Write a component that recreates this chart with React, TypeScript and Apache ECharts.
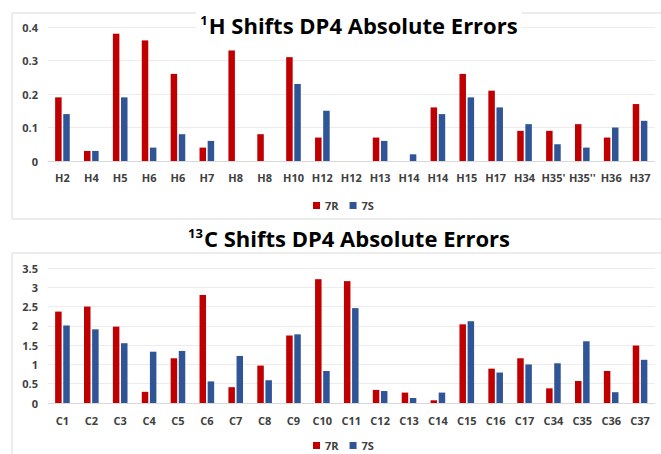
import React, { useEffect, useRef } from "react";
import * as echarts from "echarts";

const hCategories = ["H2", "H4", "H5", "H6", "H6", "H7", "H8", "H8", "H10", "H12", "H12", "H13", "H14", "H14", "H15", "H17", "H34", "H35'", "H35''", "H36", "H37"];
const h7R = [0.19, 0.03, 0.38, 0.36, 0.26, 0.04, 0.33, 0.08, 0.31, 0.07, 0, 0.07, 0, 0.16, 0.26, 0.21, 0.09, 0.09, 0.11, 0.07, 0.17];
const h7S = [0.14, 0.03, 0.19, 0.04, 0.08, 0.06, 0, 0, 0.23, 0.15, 0, 0.06, 0.02, 0.14, 0.19, 0.16, 0.11, 0.05, 0.04, 0.10, 0.12];

const cCategories = ["C1", "C2", "C3", "C4", "C5", "C6", "C7", "C8", "C9", "C10", "C11", "C12", "C13", "C14", "C15", "C16", "C17", "C34", "C35", "C36", "C37"];
const c7R = [2.37, 2.5, 1.98, 0.29, 1.16, 2.8, 0.41, 0.97, 1.75, 3.21, 3.16, 0.34, 0.27, 0.07, 2.04, 0.89, 1.16, 0.38, 0.57, 0.83, 1.49];
const c7S = [2.01, 1.91, 1.55, 1.33, 1.35, 0.56, 1.22, 0.59, 1.78, 0.83, 2.46, 0.31, 0.13, 0.27, 2.12, 0.79, 1.0, 1.03, 1.6, 0.28, 1.12];

const RED = "#C00000";
const BLUE = "#2F5597";
const FONT = "Open Sans";

export default function App() {
  const ref = useRef<HTMLDivElement>(null);
  useEffect(() => {
    if (!ref.current) return;
    const chart = echarts.init(ref.current, null, { renderer: "svg" });
    const axisLabel = { fontFamily: FONT, fontWeight: "bold" as const, fontSize: 11, color: "#404040" };
    const titleRich = {
      sup: { fontFamily: FONT, fontWeight: "bold" as const, fontSize: 13, color: "#000", verticalAlign: "top" as const, padding: [0, 1, 11, 0] },
      main: { fontFamily: FONT, fontWeight: "bold" as const, fontSize: 22, color: "#000" },
    };
    const legendCommon = {
      data: ["7R", "7S"],
      itemWidth: 7,
      itemHeight: 7,
      itemGap: 11,
      icon: "rect",
      textStyle: { fontFamily: FONT, fontWeight: "bold" as const, fontSize: 11, color: "#404040" },
    };
    const barCommon = { type: "bar" as const, barWidth: 6.5, barGap: "25%" };
    chart.setOption({
      animation: false,
      backgroundColor: "#fff",
      graphic: [
        { type: "rect", shape: { x: 12, y: 13, width: 700, height: 206 }, style: { fill: "none", stroke: "#d9d9d9", lineWidth: 1 }, z: -10 },
        { type: "rect", shape: { x: 12, y: 253, width: 700, height: 220 }, style: { fill: "none", stroke: "#d9d9d9", lineWidth: 1 }, z: -10 },
      ],
      title: [
        { text: "{sup|1}{main|H Shifts DP4 Absolute Errors}", left: 355, textAlign: "center", top: 11, textStyle: { rich: titleRich }, backgroundColor: "#fff", padding: [2, 4], z: 10 },
        { text: "{sup|13}{main|C Shifts DP4 Absolute Errors}", left: 345, textAlign: "center", top: 224, textStyle: { rich: titleRich }, padding: [2, 4] },
      ],
      legend: [
        { ...legendCommon, left: 308, top: 195 },
        { ...legendCommon, left: 308, top: 435 },
      ],
      grid: [
        { left: 48, right: 6.5, top: 27, height: 134 },
        { left: 48, right: 6.5, top: 268, height: 135 },
      ],
      xAxis: [
        { type: "category", gridIndex: 0, data: hCategories, axisTick: { show: false }, axisLine: { lineStyle: { color: "#d9d9d9" } }, axisLabel: { ...axisLabel, interval: 0, margin: 11 } },
        { type: "category", gridIndex: 1, data: cCategories, axisTick: { show: false }, axisLine: { lineStyle: { color: "#d9d9d9" } }, axisLabel: { ...axisLabel, interval: 0, margin: 12 } },
      ],
      yAxis: [
        { type: "value", gridIndex: 0, min: 0, max: 0.4, interval: 0.1, axisLabel: { ...axisLabel, margin: 10 }, splitLine: { lineStyle: { color: "#ececec" } } },
        { type: "value", gridIndex: 1, min: 0, max: 3.5, interval: 0.5, axisLabel: { ...axisLabel, margin: 10 }, splitLine: { lineStyle: { color: "#ececec" } } },
      ],
      series: [
        { ...barCommon, name: "7R", xAxisIndex: 0, yAxisIndex: 0, data: h7R, itemStyle: { color: RED } },
        { ...barCommon, name: "7S", xAxisIndex: 0, yAxisIndex: 0, data: h7S, itemStyle: { color: BLUE } },
        { ...barCommon, name: "7R", xAxisIndex: 1, yAxisIndex: 1, data: c7R, itemStyle: { color: RED } },
        { ...barCommon, name: "7S", xAxisIndex: 1, yAxisIndex: 1, data: c7S, itemStyle: { color: BLUE } },
      ],
    });
    return () => chart.dispose();
  }, []);
  return <div ref={ref} style={{ position: "fixed", left: 0, top: 0, width: 661, height: 454 }} />;
}
